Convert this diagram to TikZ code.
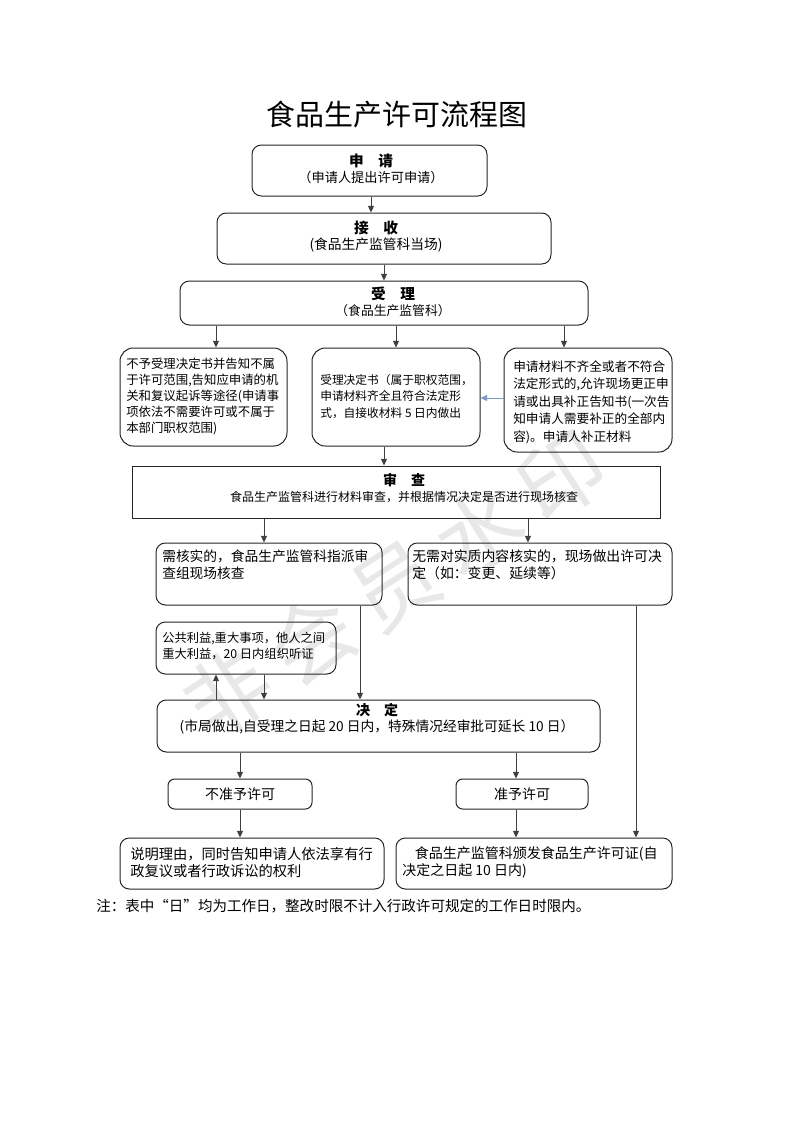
\documentclass[tikz,border=0pt]{standalone}
\usepackage{fontspec}
\setmainfont{Noto Sans CJK SC}
\usetikzlibrary{arrows.meta}
\def\u{0.75pt}
\newcommand{\fsz}[2]{\fontsize{#1}{#2}\selectfont}
\definecolor{arrblue}{HTML}{7A98C8}
\begin{document}
\begin{tikzpicture}[x=0.75pt,y=-0.75pt,
  box/.style={draw=black!85, line width=0.75pt, rounded corners=7pt, inner sep=0},
  rbox/.style={draw=black!85, line width=0.75pt, inner sep=0},
  txt/.style={inner sep=0, align=left, text=black, anchor=west},
  ctxt/.style={inner sep=0, align=center, text=black},
  arr/.style={draw=black!75, line width=0.75pt, -{Triangle[length=5pt,width=4.5pt]}},
  ln/.style={draw=black!75, line width=0.75pt},
]
\useasboundingbox[fill=white] (0,0) rectangle (793,1122);

% watermark
\node[inner sep=0, rotate=33, text=black!9, font=\fsz{64}{64}] (wm) at (395,585) {非\,会\,员\,水\,印};

% title
\node[ctxt, font=\fsz{21.7}{26}] (title) at (397,114) {食品生产许可流程图};

% boxes
\node[box, minimum width=235*\u, minimum height=51*\u] (b1) at (369.5,170.5) {};
\node[box, minimum width=334*\u, minimum height=51*\u] (b2) at (384,238.5) {};
\node[box, minimum width=408*\u, minimum height=44*\u] (b3) at (384,303) {};
\node[box, rounded corners=10pt, minimum width=167*\u, minimum height=98*\u] (b4) at (203.5,397) {};
\node[box, rounded corners=10pt, minimum width=168*\u, minimum height=98*\u] (b5) at (396,397) {};
\node[box, rounded corners=10pt, minimum width=168*\u, minimum height=104*\u] (b6) at (588,400) {};
\node[rbox, minimum width=528*\u, minimum height=52*\u] (b7) at (396,492) {};
\node[box, minimum width=226*\u, minimum height=62*\u] (b8) at (269,574) {};
\node[box, minimum width=264*\u, minimum height=62*\u] (b9) at (540,574) {};
\node[box, minimum width=180*\u, minimum height=52*\u] (b10) at (246,648) {};
\node[box, minimum width=443*\u, minimum height=52*\u] (b11) at (378.5,726) {};
\node[box, rounded corners=5pt, minimum width=144*\u, minimum height=30*\u] (b12) at (240,794) {};
\node[box, rounded corners=5pt, minimum width=132*\u, minimum height=30*\u] (b13) at (522,794) {};
\node[box, minimum width=264*\u, minimum height=51*\u] (b14) at (252,863.5) {};
\node[box, minimum width=276*\u, minimum height=51*\u] (b15) at (534,863.5) {};

% texts
\node[ctxt] (t1) at (371,168.5) {{\fsz{11}{12.75}\bfseries 申　请}\\{\fsz{9.9}{12.75}（申请人提出许可申请）}};
\node[ctxt] (t2) at (376,237) {{\fsz{11}{13.5}\bfseries 接　收}\\{\fsz{10.3}{13.5}(食品生产监管科当场)}};
\node[ctxt] (t3) at (393,301.5) {{\fsz{11}{12.75}\bfseries 受　理}\\{\fsz{9.6}{12.75}（食品生产监管科）}};
\node[txt, font=\fsz{9.3}{12}] (t4) at (126,396.5) {不予受理决定书并告知不属\\于许可范围,告知应申请的机\\关和复议起诉等途径(申请事\\项依法不需要许可或不属于\\本部门职权范围)};
\node[txt, font=\fsz{8.8}{12.4}] (t5) at (320,396.5) {受理决定书（属于职权范围，\\申请材料齐全且符合法定形\\式，自接收材料 5 日内做出};
\node[txt, font=\fsz{9.5}{13.1}] (t6) at (513,402) {申请材料不齐全或者不符合\\法定形式的,允许现场更正申\\请或出具补正告知书(一次告\\知申请人需要补正的全部内\\容)。申请人补正材料};
\node[ctxt] (t7) at (404,488) {{\fsz{10.5}{12}\bfseries 审　查}\\{\fsz{9}{12}食品生产监管科进行材料审查，并根据情况决定是否进行现场核查}};
\node[txt, font=\fsz{10.3}{12.75}] (t8) at (162,565) {需核实的，食品生产监管科指派审\\查组现场核查};
\node[txt, font=\fsz{10.4}{12.75}] (t9) at (412,565) {无需对实质内容核实的，现场做出许可决\\定（如：变更、延续等）};
\node[txt, font=\fsz{9.2}{12}] (t10) at (162,646) {公共利益,重大事项，他人之间\\重大利益，20 日内组织听证};
\node[ctxt] (t11) at (377,718.5) {{\fsz{10.5}{12.75}\bfseries 决　定}\\{\fsz{10.3}{12.75}(市局做出,自受理之日起 20 日内，特殊情况经审批可延长 10 日）}};
\node[ctxt, font=\fsz{10.5}{12}] (t12) at (240,794) {不准予许可};
\node[ctxt, font=\fsz{10.5}{12}] (t13) at (522,794) {准予许可};
\node[txt, font=\fsz{10.7}{12.75}] (t14) at (130,862.5) {说明理由，同时告知申请人依法享有行\\政复议或者行政诉讼的权利};
\node[txt, font=\fsz{10.5}{12.75}] (t15) at (402,862.5) {\hspace{0.9em}食品生产监管科颁发食品生产许可证(自\\决定之日起 10 日内)};
\node[txt, font=\fsz{10.9}{13}] (note) at (96,906) {注：表中“日”均为工作日，整改时限不计入行政许可规定的工作日时限内。};

% connectors
\draw[arr] (b1.south -| 371,0) -- (b2.north -| 371,0);
\draw[arr] (b2.south) -- (b3.north);
\draw[arr] (b3.south -| 216,0) -- (b4.north -| 216,0);
\draw[arr] (b3.south -| 396,0) -- (b5.north -| 396,0);
\draw[arr] (b3.south -| 564,0) -- (b6.north -| 564,0);
\draw[arr, draw=arrblue] (b6.west |- 0,398) -- (b5.east |- 0,398);
\draw[arr] (b5.south -| 384,0) -- (b7.north -| 384,0);
\draw[arr] (b7.south -| 264,0) -- (b8.north -| 264,0);
\draw[arr] (b7.south -| 528,0) -- (b9.north -| 528,0);
\draw[arr] (b11.north -| 216,0) -- (b10.south -| 216,0);
\draw[arr] (b10.south -| 264,0) -- (b11.north -| 264,0);
\draw[arr] (b8.south -| 360,0) -- (b11.north -| 360,0);
\draw[arr] (b11.south -| 240,0) -- (b12.north -| 240,0);
\draw[arr] (b11.south -| 516,0) -- (b13.north -| 516,0);
\draw[arr] (b12.south -| 240,0) -- (b14.north -| 240,0);
\draw[arr] (b13.south -| 516,0) -- (b15.north -| 516,0);
\draw[arr] (b9.south -| 636,0) -- (b15.north -| 636,0);
\end{tikzpicture}
\end{document}
